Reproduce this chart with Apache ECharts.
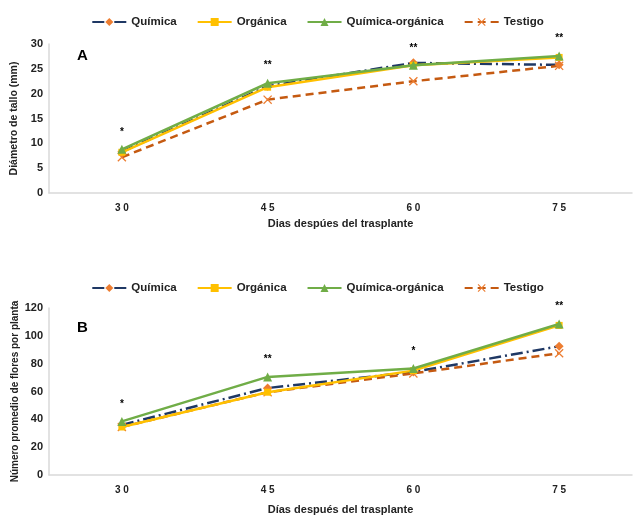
<!DOCTYPE html>
<html>
<head>
<meta charset="utf-8">
<script src="https://cdn.jsdelivr.net/npm/echarts@6/dist/echarts.min.js"></script>
<style>html,body{margin:0;padding:0;background:#fff}#c{width:635px;height:520px}</style>
</head>
<body>
<div id="c"></div>
<script>
const categories = ['30', '45', '60', '75'];
const seriesNames = ['Química', 'Orgánica', 'Química-orgánica', 'Testigo'];
// Panel A: stem diameter (mm)
const quimicaA = [8.3, 21.5, 26.2, 25.8];
const organicaA = [8.2, 21.3, 25.7, 27.3];
const quimOrgA = [8.8, 22.1, 25.7, 27.6];
const testigoA = [7.2, 18.8, 22.5, 25.6];
const sigA = ['*', '**', '**', '**'];
// Panel B: flowers per plant
const quimicaB = [36, 62.5, 74, 92.5];
const organicaB = [34.5, 59.5, 75, 107.5];
const quimOrgB = [38.5, 70.5, 76.5, 108.5];
const testigoB = [34.5, 59.5, 73, 87.5];
const sigB = ['*', '**', '*', '**'];
const yTicksA = {min: 0, max: 30, interval: 5};
const yTicksB = {min: 0, max: 120, interval: 20};

const FONT = 'Liberation Sans, Arial, sans-serif';
const xShape = 'path://M0,1L1,0L5,4L9,0L10,1L6,5L10,9L9,10L5,6L1,10L0,9L4,5Z';

function mkSeries(idx, vals, sig) {
  const styles = [
    {line: {color: '#1F3864', width: 2.5, type: [12, 4, 2, 4]}, symbol: 'diamond', size: 9, mcolor: '#ED7D31'},
    {line: {color: '#FFC000', width: 2.5, type: 'solid'}, symbol: 'rect', size: 7, mcolor: '#FFC000'},
    {line: {color: '#70AD47', width: 2.5, type: 'solid'}, symbol: 'triangle', size: 9, mcolor: '#70AD47'},
    {line: {color: '#C55A11', width: 2.5, type: [8, 5]}, symbol: xShape, size: 9, mcolor: '#ED7D31'}
  ];
  const out = [];
  vals.forEach((v, i) => {
    const s = styles[i];
    const ser = {
      name: seriesNames[i], type: 'line', data: v,
      xAxisIndex: idx, yAxisIndex: idx,
      symbol: s.symbol, symbolSize: s.size, showAllSymbol: true,
      lineStyle: s.line,
      itemStyle: {color: s.mcolor},
      z: i === 2 ? 5 : (i === 1 ? 4 : 3),
      animation: false
    };
    if (i === 2) {
      ser.label = {
        show: true, position: 'top', distance: 8,
        formatter: p => sig[p.dataIndex],
        color: '#000', fontFamily: FONT, fontWeight: 'bold', fontSize: 10
      };
    }
    out.push(ser);
  });
  return out;
}

const legendCommon = {
  itemWidth: 34, itemHeight: 10, itemGap: 20,
  textStyle: {fontFamily: FONT, fontWeight: 'bold', fontSize: 11.5, color: '#222'},
  data: seriesNames
};

function xAx(idx, name, gap) {
  return {
    type: 'category', gridIndex: idx, data: categories, boundaryGap: true,
    axisLine: {lineStyle: {color: '#d9d9d9', width: 1.5}},
    axisTick: {show: false},
    axisLabel: {fontFamily: FONT, fontWeight: 'bold', fontSize: 10, color: '#222', margin: 10,
      formatter: v => v.split('').join(' ')},
    name: name, nameLocation: 'middle', nameGap: gap,
    nameTextStyle: {fontFamily: FONT, fontWeight: 'bold', fontSize: 11, color: '#222'}
  };
}
function yAx(idx, t, name, fs) {
  return {
    type: 'value', gridIndex: idx, min: t.min, max: t.max, interval: t.interval,
    splitLine: {show: false},
    axisLine: {show: true, lineStyle: {color: '#d9d9d9', width: 1.5}},
    axisTick: {show: false},
    axisLabel: {fontFamily: FONT, fontWeight: 'bold', fontSize: 11, color: '#222', margin: 6},
    name: name, nameLocation: 'middle', nameGap: 29, nameRotate: 90, nameMoveOverlap: false,
    nameTextStyle: {fontFamily: FONT, fontWeight: 'bold', fontSize: fs, color: '#222'}
  };
}

const chart = echarts.init(document.getElementById('c'), null, {renderer: 'canvas'});
chart.setOption({
  backgroundColor: '#fff',
  animation: false,
  legend: [
    Object.assign({top: 11, left: 'center'}, legendCommon),
    Object.assign({top: 277, left: 'center'}, legendCommon)
  ],
  grid: [
    {left: 49, right: 3, top: 44, height: 149, outerBoundsMode: 'none', containLabel: false},
    {left: 49, right: 3, top: 308, height: 167, outerBoundsMode: 'none', containLabel: false}
  ],
  xAxis: [xAx(0, 'Dias despúes del trasplante', 25), xAx(1, 'Días después del trasplante', 29)],
  yAxis: [yAx(0, yTicksA, 'Diámetro de tallo (mm)', 10.5), yAx(1, yTicksB, 'Número promedio de flores por planta', 10)],
  graphic: [
    {type: 'text', left: 77, top: 48, style: {text: 'A', font: 'bold 15px ' + FONT, fill: '#000'}},
    {type: 'text', left: 77, top: 320, style: {text: 'B', font: 'bold 15px ' + FONT, fill: '#000'}}
  ],
  series: [].concat(
    mkSeries(0, [quimicaA, organicaA, quimOrgA, testigoA], sigA),
    mkSeries(1, [quimicaB, organicaB, quimOrgB, testigoB], sigB)
  )
});
</script>
</body>
</html>
